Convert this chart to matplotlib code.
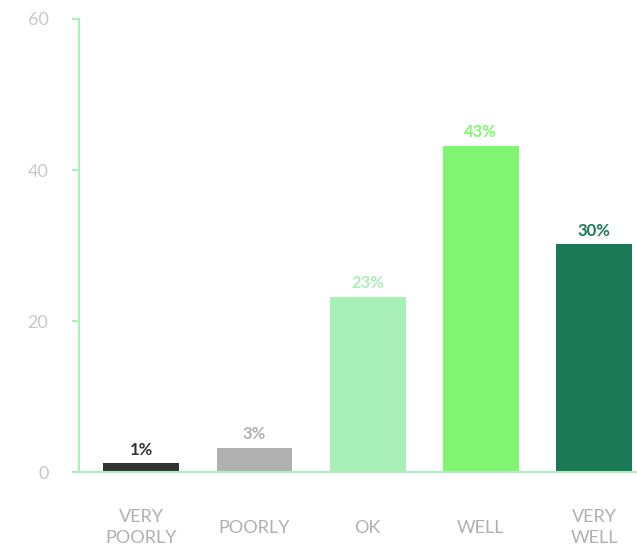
import matplotlib
matplotlib.use("Agg")
import matplotlib.pyplot as plt

categories = ["VERY\nPOORLY", "POORLY", "OK", "WELL", "VERY\nWELL"]
values = [1.2, 3.2, 23.2, 43.2, 30.2]
labels = ["1%", "3%", "23%", "43%", "30%"]
colors = ["#333333", "#b0b0b0", "#a8f0b8", "#80f571", "#1b7a55"]
yticks = [0, 20, 40, 60]

plt.rcParams["font.family"] = ["Lato", "DejaVu Sans"]
line_color = "#aaf0bb"

fig = plt.figure(figsize=(6.37, 5.49), dpi=100)
ax = fig.add_axes([0.124, 0.140, 0.876, 0.8254])

x = range(len(categories))
bars = ax.bar(x, values, width=0.67, color=colors)

for xi, v, lab, c in zip(x, values, labels, colors):
    ax.annotate(lab, (xi, v), xytext=(0, 4), textcoords="offset points",
                ha="center", va="bottom", fontsize=12, fontweight="bold", color=c)

ax.set_xlim(-0.55, 4.38)
ax.set_ylim(0, 60)
ax.set_yticks(yticks)
ax.set_xticks(list(x))
ax.set_xticklabels(categories, va="center", linespacing=1.35)

for s in ["top", "right"]:
    ax.spines[s].set_visible(False)
for s in ["left", "bottom"]:
    ax.spines[s].set_color(line_color)
    ax.spines[s].set_linewidth(1.5)

ax.tick_params(axis="y", length=5, width=1.5, color=line_color,
               labelcolor="#c8c8c8", labelsize=13, pad=17)
ax.tick_params(axis="x", length=0, labelcolor="#b0b0b0", labelsize=13, pad=40)

fig.savefig("out.png", dpi=100)
